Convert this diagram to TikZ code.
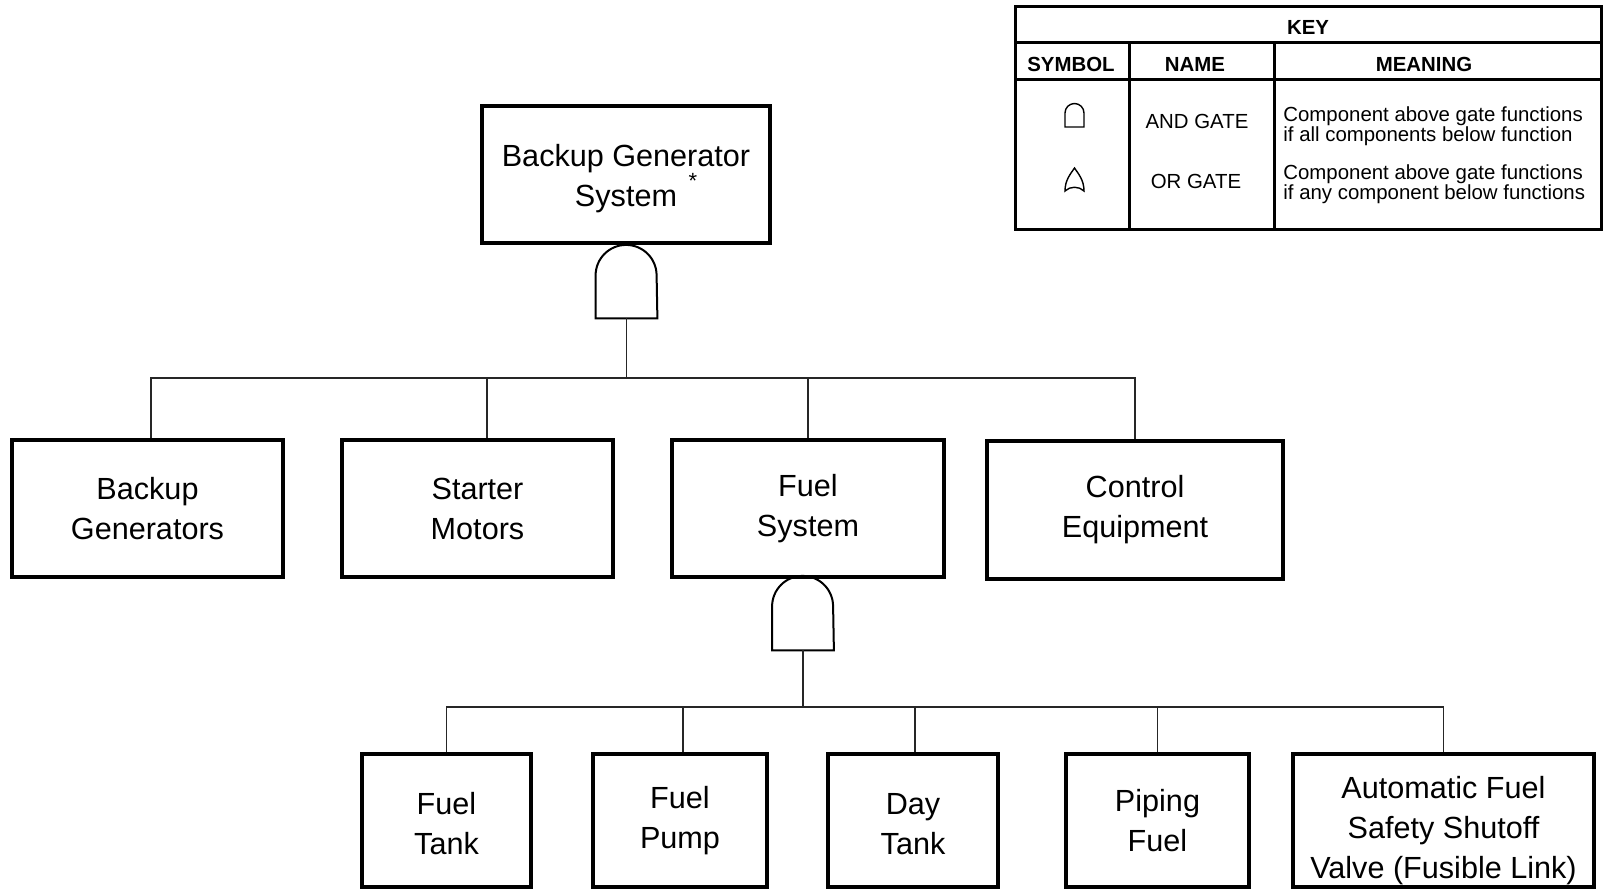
\documentclass[tikz,border=0pt]{standalone}
\usepackage{fontspec}
\setmainfont{Liberation Sans}
\usetikzlibrary{positioning,calc}

\begin{document}
\begin{tikzpicture}[
    x=0.5pt, y=-0.5pt,
    block/.style={draw, rectangle, line width=1.7pt, inner sep=0pt, align=center, font=\fontsize{15.3}{20}\selectfont},
    gatebox/.style={inner sep=0pt, minimum width=30.5pt, minimum height=36.5pt},
    gateline/.style={line width=1pt},
    edge/.style={line width=0.6pt, draw=black!85},
    keyline/.style={line width=1.5pt},
    keytext/.style={font=\fontsize{10.2}{9.8}\selectfont, inner sep=0pt},
    keyhead/.style={font=\fontsize{10.2}{12}\selectfont\bfseries, inner sep=0pt},
    keysym/.style={line width=0.7pt},
]
\useasboundingbox (0,0) rectangle (1603,890);

% Top system
\node[block, minimum width=144pt, minimum height=68.5pt, text height=35.2pt] (bgs) at (626,174.5) {Backup Generator\\System};
\node[font=\fontsize{11}{12}\selectfont, inner sep=0pt] (star) at (693,181) {*};

% AND gate under the system
\node[gatebox] (gate1) at (626.5,281.5) {};
\draw[gateline] (gate1.south west) -- ++(0,-43) arc[start angle=180, end angle=0, radius=15.25pt] -- (gate1.south east) -- cycle;
\coordinate (bus1) at (626.5,378);

% Subsystems
\node[block, minimum width=135.5pt, minimum height=68.5pt] (bgen) at (147.5,508.5) {Backup\\Generators};
\node[block, minimum width=135.5pt, minimum height=68.5pt] (sm) at (477.5,508.5) {Starter\\Motors};
\node[block, minimum width=136pt, minimum height=68.5pt] (fuel) at (808,508.5) {Fuel\\System};
\node[block, minimum width=148pt, minimum height=69pt] (ctrl) at (1135,510) {Control\\Equipment};

\draw[edge] (gate1.south) -- (bus1);
\draw[edge] ([xshift=1.75pt]bgen.north) |- (ctrl.north |- bus1) -- (ctrl.north);
\draw[edge] ([xshift=4.75pt]sm.north) -- ([xshift=4.75pt]sm.north |- bus1);
\draw[edge] (fuel.north) -- (fuel.north |- bus1);

% AND gate under the fuel system
\node[gatebox] (gate2) at (803,613.5) {};
\draw[gateline] (gate2.south west) -- ++(0,-44) arc[start angle=180, end angle=0, radius=15.25pt] -- (gate2.south east) -- cycle;
\coordinate (bus2) at (803,707);

% Fuel system components
\node[block, minimum width=84.5pt, minimum height=66.5pt, text height=34.2pt] (ft) at (446.5,820.5) {Fuel\\Tank};
\node[block, minimum width=87pt, minimum height=66.5pt] (fp) at (680,820.5) {Fuel\\Pump};
\node[block, minimum width=85pt, minimum height=66.5pt, text height=34.2pt] (dt) at (913,820.5) {Day\\Tank};
\node[block, minimum width=91.5pt, minimum height=66.5pt] (pf) at (1157.5,820.5) {Piping\\Fuel};
\node[block, minimum width=150.5pt, minimum height=66.5pt, text height=61pt] (afv) at (1443.5,820.5) {Automatic Fuel\\Safety Shutoff\\Valve (Fusible Link)};

\draw[edge] (gate2.south) -- (bus2);
\draw[edge] (ft.north) |- (afv.north |- bus2) -- (afv.north);
\draw[edge] ([xshift=1.5pt]fp.north) -- ([xshift=1.5pt]fp.north |- bus2);
\draw[edge] ([xshift=1pt]dt.north) -- ([xshift=1pt]dt.north |- bus2);
\draw[edge] (pf.north) -- (pf.north |- bus2);

% Key
\draw[keyline] (1015,6) rectangle (1601,229);
\draw[keyline] (1015,42) -- (1601,42);
\draw[keyline] (1015,79) -- (1601,79);
\draw[keyline] (1129,42) -- (1129,229);
\draw[keyline] (1274,42) -- (1274,229);

\node[keyhead] (keytitle) at (1308,27) {KEY};
\node[keyhead] (hsym) at (1071,64) {SYMBOL};
\node[keyhead] (hname) at (1195,64) {NAME};
\node[keyhead] (hmean) at (1424,64) {MEANING};

\node[keytext] (andname) at (1197,121) {AND GATE};
\node[keytext] (orname) at (1196,181) {OR GATE};
\node[keytext, align=left, anchor=west] (andmean) at (1283,126) {Component above gate functions\\if all components below function};
\node[keytext, align=left, anchor=west] (ormean) at (1283,184) {Component above gate functions\\if any component below functions};

% key symbols
\coordinate (andsym) at (1074.5,127);
\coordinate (orsym) at (1074.5,191);
\draw[keysym] ([xshift=-4.75pt]andsym) -- ++(0,-14) arc[start angle=180, end angle=0, radius=4.75pt] -- ([xshift=4.75pt]andsym) -- cycle;
\draw[keysym] ([xshift=-4.75pt]orsym) .. controls ++(0,-11) and ++(-4,6) .. ([yshift=11.5pt]orsym)
  .. controls ++(4,6) and ++(0,-11) .. ([xshift=4.75pt]orsym)
  .. controls ++(-5,-5) and ++(5,-5) .. ([xshift=-4.75pt]orsym) -- cycle;

\end{tikzpicture}
\end{document}
